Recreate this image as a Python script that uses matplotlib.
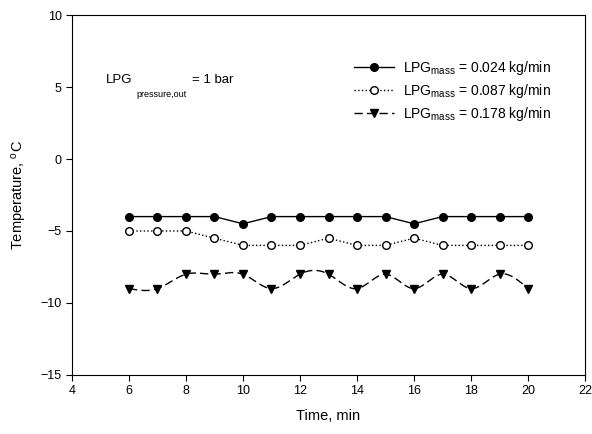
import numpy as np
import matplotlib
matplotlib.use("Agg")
import matplotlib.pyplot as plt

plt.rcParams['font.family'] = ['Liberation Sans', 'DejaVu Sans']
plt.rcParams['mathtext.fontset'] = 'custom'
plt.rcParams['mathtext.rm'] = 'Liberation Sans'
plt.rcParams['mathtext.it'] = 'Liberation Sans'

time = [6, 7, 8, 9, 10, 11, 12, 13, 14, 15, 16, 17, 18, 19, 20]
t_024 = [-4, -4, -4, -4, -4.5, -4, -4, -4, -4, -4, -4.5, -4, -4, -4, -4]
t_087 = [-5, -5, -5, -5.5, -6, -6, -6, -5.5, -6, -6, -5.5, -6, -6, -6, -6]
t_178 = [-9, -9, -8, -8, -8, -9, -8, -8, -9, -8, -9, -8, -9, -8, -9]
labels = [r'LPG$_{\mathrm{mass}}$ = 0.024 kg/min',
          r'LPG$_{\mathrm{mass}}$ = 0.087 kg/min',
          r'LPG$_{\mathrm{mass}}$ = 0.178 kg/min']
xticks = [4, 6, 8, 10, 12, 14, 16, 18, 20, 22]
yticks = [-15, -10, -5, 0, 5, 10]


def natural_spline(x, y, n=20):
    x = np.asarray(x, float); y = np.asarray(y, float)
    k = len(x); h = np.diff(x)
    A = np.zeros((k, k)); b = np.zeros(k)
    A[0, 0] = A[-1, -1] = 1
    for i in range(1, k - 1):
        A[i, i - 1] = h[i - 1]; A[i, i] = 2 * (h[i - 1] + h[i]); A[i, i + 1] = h[i]
        b[i] = 6 * ((y[i + 1] - y[i]) / h[i] - (y[i] - y[i - 1]) / h[i - 1])
    M = np.linalg.solve(A, b)
    xs, ys = [], []
    for i in range(k - 1):
        t = np.linspace(x[i], x[i + 1], n, endpoint=False)
        a = x[i + 1] - t; c = t - x[i]
        s = (M[i] * a**3 + M[i + 1] * c**3) / (6 * h[i]) + \
            (y[i] / h[i] - M[i] * h[i] / 6) * a + (y[i + 1] / h[i] - M[i + 1] * h[i] / 6) * c
        xs.extend(t); ys.extend(s)
    xs.append(x[-1]); ys.append(y[-1])
    return np.array(xs), np.array(ys)


fig = plt.figure(figsize=(5.92, 4.34), dpi=100)
ax = fig.add_axes([0.1216, 0.136, 0.8666, 0.8294])

ms = 5.5
ax.plot(time, t_024, '-', color='black', lw=1.0, marker='o', ms=ms,
        mfc='black', mec='black', label=labels[0])
ax.plot(time, t_087, ':', color='black', lw=1.0, marker='o', ms=ms,
        mfc='white', mec='black', label=labels[1])
sx, sy = natural_spline(time, t_178)
ax.plot(sx, sy, '--', color='black', lw=1.0, dashes=(6, 3))
ax.plot(time, t_178, 'v', color='black', ms=6, mfc='black', mec='black')
ax.plot([], [], '--', color='black', lw=1.0, dashes=(6, 3), marker='v', ms=6,
        mfc='black', mec='black', label=labels[2])

ax.set_xlim(4, 22)
ax.set_ylim(-15, 10)
ax.set_xticks(xticks)
ax.set_yticks(yticks)
ax.tick_params(direction='out', length=4, width=0.8, labelsize=9, top=False, right=False)
for s in ax.spines.values():
    s.set_linewidth(0.8)

ax.set_xlabel('Time, min', fontsize=10.5, labelpad=8)
ax.set_ylabel(r'Temperature, $^{\mathrm{o}}$C', fontsize=10.5, labelpad=8)

# annotation: LPG_{pressure,out} = 1 bar, with a low subscript as in the original
ax.annotate('LPG', xy=(5.2, 5.3), xytext=(0, 0), textcoords='offset points',
            fontsize=9.5, va='baseline', ha='left')
ax.annotate('pressure,out', xy=(5.2, 5.3), xytext=(22, -10), textcoords='offset points',
            fontsize=6.5, va='baseline', ha='left')
ax.annotate('= 1 bar', xy=(5.2, 5.3), xytext=(61.5, 0), textcoords='offset points',
            fontsize=9.5, va='baseline', ha='left')

ax.legend(loc='upper right', bbox_to_anchor=(0.947, 0.898), frameon=False, fontsize=10,
          handlelength=2.9, handletextpad=0.65, labelspacing=0.38, borderpad=0)

fig.savefig('out.png', dpi=100)
